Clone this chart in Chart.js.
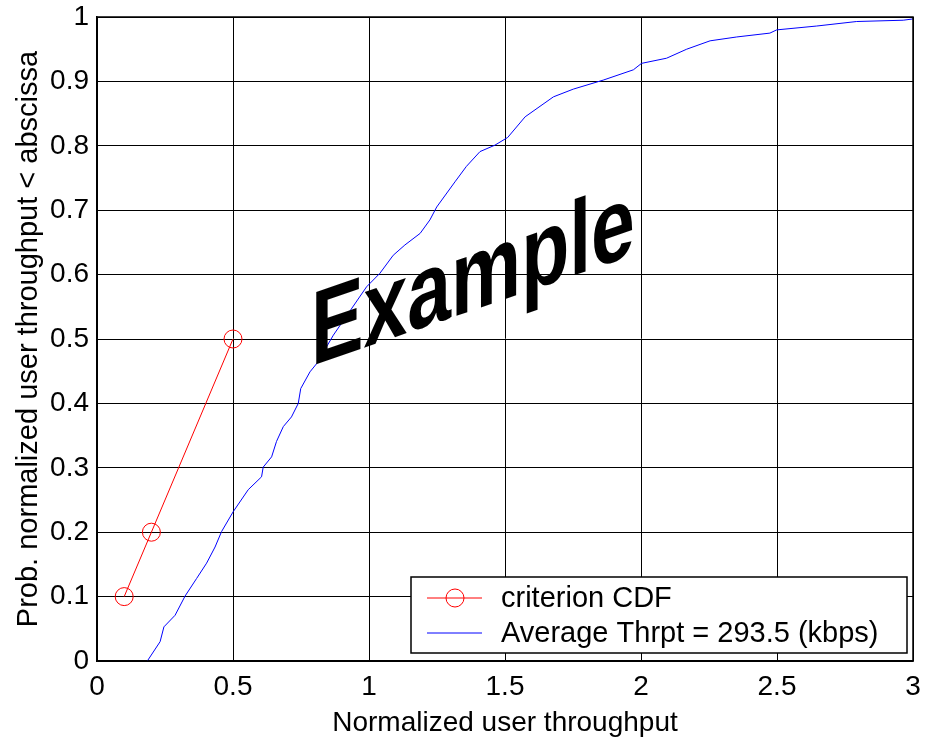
<!DOCTYPE html>
<html>
<head>
<meta charset="utf-8">
<script src="https://cdn.jsdelivr.net/npm/chart.js@4/dist/chart.umd.min.js"></script>
<style>
  html, body { margin: 0; padding: 0; background: #fff; }
  #wrap { width: 925px; height: 740px; }
</style>
</head>
<body>
<div id="wrap"><canvas id="cdf"></canvas></div>
<script>
// criterion points
const critX = [0.1, 0.2, 0.5];
const critY = [0.1, 0.2, 0.5];

// user throughput CDF
const thrX = [0.185, 0.232, 0.246, 0.287, 0.324, 0.366, 0.403, 0.434, 0.458, 0.501, 0.556, 0.605, 0.611, 0.642, 0.66, 0.685, 0.715, 0.74, 0.749, 0.783, 0.808, 0.869, 0.991, 1.04, 1.089, 1.132, 1.188, 1.224, 1.249, 1.316, 1.358, 1.408, 1.463, 1.51, 1.574, 1.678, 1.751, 1.861, 1.972, 2.002, 2.094, 2.168, 2.254, 2.352, 2.474, 2.499, 2.646, 2.793, 2.964, 3.0];
const thrY = [0, 0.03, 0.053, 0.071, 0.101, 0.128, 0.152, 0.177, 0.201, 0.232, 0.266, 0.286, 0.301, 0.317, 0.341, 0.364, 0.379, 0.4, 0.423, 0.449, 0.462, 0.506, 0.581, 0.602, 0.63, 0.646, 0.664, 0.685, 0.705, 0.744, 0.768, 0.791, 0.801, 0.813, 0.845, 0.876, 0.888, 0.902, 0.918, 0.928, 0.936, 0.95, 0.963, 0.969, 0.975, 0.98, 0.986, 0.993, 0.995, 0.997];

const legendLabels = ['criterion CDF', 'Average Thrpt = 293.5 (kbps)'];
const font = '"Liberation Sans", Arial, sans-serif';

const toPts = (xs, ys) => xs.map((x, i) => ({ x, y: ys[i] }));

// frame, legend box and the watermark
const extras = {
  id: 'extras',
  afterDraw(chart) {
    const ctx = chart.ctx;
    const a = chart.chartArea;
    ctx.save();
    ctx.strokeStyle = '#000';
    ctx.lineWidth = 1.5;
    ctx.strokeRect(a.left, a.top, a.right - a.left, a.bottom - a.top);

    // legend
    const lx = 411, ly = 577, lw = 496, lh = 76;
    ctx.fillStyle = '#fff';
    ctx.fillRect(lx, ly, lw, lh);
    ctx.lineWidth = 1.5;
    ctx.strokeRect(lx, ly, lw, lh);
    ctx.font = '29px ' + font;
    ctx.textBaseline = 'middle';
    chart.data.datasets.forEach((ds, i) => {
      const cy = ly + 21 + i * 35;
      ctx.strokeStyle = ds.borderColor;
      ctx.lineWidth = 1;
      ctx.beginPath();
      ctx.moveTo(427, cy);
      ctx.lineTo(482, cy);
      ctx.stroke();
      if (ds.pointRadius > 0) {
        ctx.beginPath();
        ctx.arc(455, cy, 9, 0, Math.PI * 2);
        ctx.stroke();
      }
      ctx.fillStyle = '#000';
      ctx.fillText(ds.label, 501, cy + 1);
    });

    // sheared "Example" stamp
    const sx = 0.75;
    ctx.setTransform(sx, -0.345 * sx, 0, 1, 311, 366);
    ctx.font = 'bold 105px ' + font;
    ctx.textBaseline = 'alphabetic';
    ctx.fillStyle = '#000';
    ctx.fillText('Example', 0, 0);
    ctx.restore();
  }
};

new Chart(document.getElementById('cdf'), {
  type: 'scatter',
  data: {
    datasets: [
      {
        label: legendLabels[0],
        data: toPts(critX, critY),
        showLine: true,
        borderColor: '#ff0000',
        borderWidth: 1,
        pointRadius: 9,
        pointHoverRadius: 9,
        pointBorderWidth: 1,
        pointBackgroundColor: 'rgba(0,0,0,0)',
        pointBorderColor: '#ff0000'
      },
      {
        label: legendLabels[1],
        data: toPts(thrX, thrY),
        showLine: true,
        borderColor: '#0000ff',
        borderWidth: 1,
        pointRadius: 0,
        pointHoverRadius: 0
      }
    ]
  },
  options: {
    responsive: true,
    maintainAspectRatio: false,
    animation: false,
    events: [],
    layout: { padding: { top: 17, right: 12, left: 0, bottom: 0 } },
    plugins: { legend: { display: false }, tooltip: { enabled: false } },
    scales: {
      x: {
        type: 'linear',
        min: 0, max: 3,
        afterFit(s) { s.height = 79; s.paddingLeft = 0; s.paddingRight = 0; },
        grid: { color: '#000', lineWidth: 1, drawTicks: false },
        border: { color: '#000', width: 1.5 },
        ticks: {
          stepSize: 0.5,
          padding: 9,
          color: '#000',
          font: { family: font, size: 28 },
          callback: v => +v.toFixed(1)
        },
        title: {
          display: true,
          text: 'Normalized user throughput',
          color: '#000',
          font: { family: font, size: 28 },
          padding: { top: 2, bottom: 0 }
        }
      },
      y: {
        type: 'linear',
        min: 0, max: 1,
        afterFit(s) { s.width = 97; s.paddingTop = 0; s.paddingBottom = 0; },
        grid: { color: '#000', lineWidth: 1, drawTicks: false },
        border: { color: '#000', width: 1.5 },
        ticks: {
          stepSize: 0.1,
          padding: 8,
          color: '#000',
          font: { family: font, size: 28 },
          callback: v => +v.toFixed(1)
        },
        title: {
          display: true,
          text: 'Prob. normalized user throughput < abscissa',
          color: '#000',
          font: { family: font, size: 29 },
          padding: { top: 12, bottom: 2 }
        }
      }
    }
  },
  plugins: [extras]
});
</script>
</body>
</html>
